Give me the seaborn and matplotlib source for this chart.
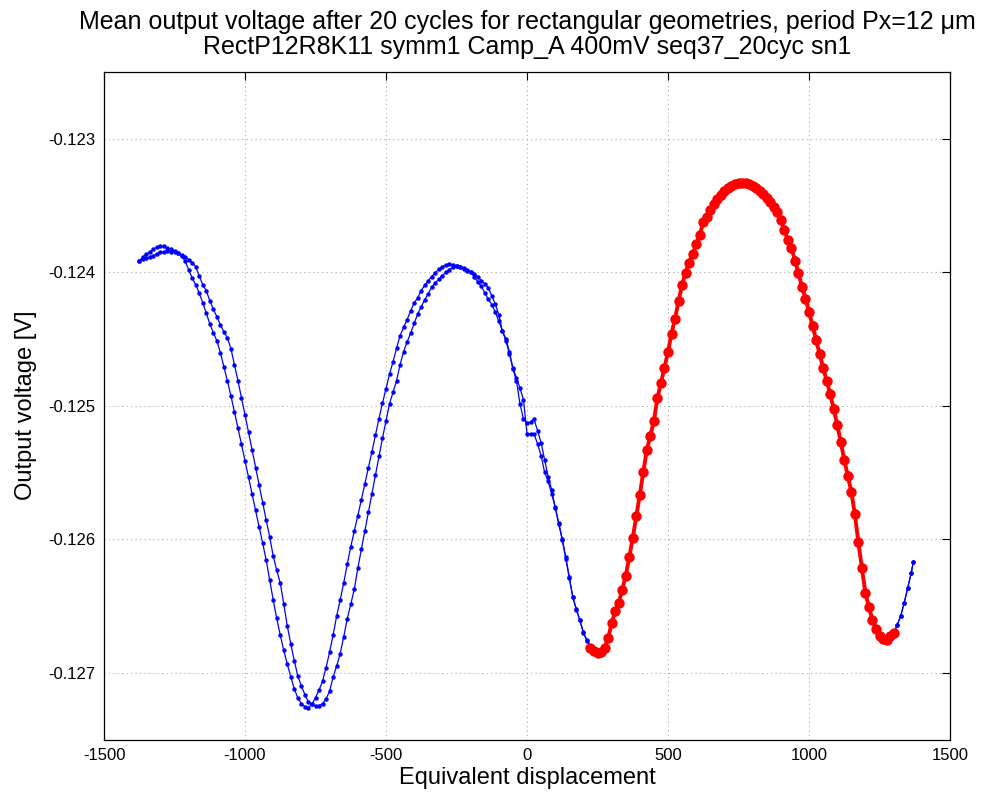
import matplotlib
matplotlib.use("Agg")
import matplotlib.pyplot as plt
from matplotlib.ticker import FormatStrFormatter
import numpy as np
import pandas as pd
import seaborn as sns

# Equivalent displacement of each sample (shared by both sweeps)
displacement = [
    -1375, -1362.5, -1350, -1337.5, -1325, -1312.5, -1300, -1287.5, -1275, -1262.5,
    -1250, -1237.5, -1225, -1212.5, -1200, -1187.5, -1175, -1162.5, -1150, -1137.5,
    -1125, -1112.5, -1100, -1087.5, -1075, -1062.5, -1050, -1037.5, -1025, -1012.5,
    -1000, -987.5, -975, -962.5, -950, -937.5, -925, -912.5, -900, -887.5,
    -875, -862.5, -850, -837.5, -825, -812.5, -800, -787.5, -775, -762.5,
    -750, -737.5, -725, -712.5, -700, -687.5, -675, -662.5, -650, -637.5,
    -625, -612.5, -600, -587.5, -575, -562.5, -550, -537.5, -525, -512.5,
    -500, -487.5, -475, -462.5, -450, -437.5, -425, -412.5, -400, -387.5,
    -375, -362.5, -350, -337.5, -325, -312.5, -300, -287.5, -275, -262.5,
    -250, -237.5, -225, -212.5, -200, -187.5, -175, -162.5, -150, -137.5,
    -125, -112.5, -100, -87.5, -75, -62.5, -50, -37.5, -25, -12.5,
    0, 12.5, 25, 37.5, 50, 62.5, 75, 87.5, 100, 112.5,
    125, 137.5, 150, 162.5, 175, 187.5, 200, 212.5, 225, 237.5,
    250, 262.5, 275, 287.5, 300, 312.5, 325, 337.5, 350, 362.5,
    375, 387.5, 400, 412.5, 425, 437.5, 450, 462.5, 475, 487.5,
    500, 512.5, 525, 537.5, 550, 562.5, 575, 587.5, 600, 612.5,
    625, 637.5, 650, 662.5, 675, 687.5, 700, 712.5, 725, 737.5,
    750, 762.5, 775, 787.5, 800, 812.5, 825, 837.5, 850, 862.5,
    875, 887.5, 900, 912.5, 925, 937.5, 950, 962.5, 975, 987.5,
    1000, 1012.5, 1025, 1037.5, 1050, 1062.5, 1075, 1087.5, 1100, 1112.5,
    1125, 1137.5, 1150, 1162.5, 1175, 1187.5, 1200, 1212.5, 1225, 1237.5,
    1250, 1262.5, 1275, 1287.5, 1300, 1312.5, 1325, 1337.5, 1350, 1362.5,
    1370,
]

# Mean output voltage [V], forward sweep
voltage_fwd = [
    -0.123916, -0.123886, -0.123865, -0.123846, -0.123826, -0.123813, -0.123805, -0.123807, -0.123817, -0.123828,
    -0.123840, -0.123856, -0.123878, -0.123916, -0.123980, -0.124043, -0.124092, -0.124156, -0.124227, -0.124306,
    -0.124385, -0.124452, -0.124512, -0.124602, -0.124707, -0.124812, -0.124925, -0.125045, -0.125165, -0.125288,
    -0.125412, -0.125536, -0.125660, -0.125783, -0.125907, -0.126027, -0.126155, -0.126305, -0.126455, -0.126593,
    -0.126717, -0.126833, -0.126935, -0.127032, -0.127122, -0.127190, -0.127231, -0.127254, -0.127261, -0.127235,
    -0.127186, -0.127130, -0.127062, -0.126961, -0.126845, -0.126717, -0.126575, -0.126455, -0.126327, -0.126188,
    -0.126057, -0.125937, -0.125825, -0.125705, -0.125585, -0.125465, -0.125345, -0.125221, -0.125097, -0.124981,
    -0.124872, -0.124763, -0.124670, -0.124568, -0.124475, -0.124411, -0.124355, -0.124287, -0.124231, -0.124190,
    -0.124137, -0.124096, -0.124062, -0.124032, -0.124002, -0.123978, -0.123957, -0.123944, -0.123940, -0.123942,
    -0.123953, -0.123962, -0.123974, -0.123987, -0.124001, -0.124013, -0.124032, -0.124062, -0.124085, -0.124115,
    -0.124175, -0.124238, -0.124317, -0.124441, -0.124497, -0.124595, -0.124722, -0.124812, -0.124985, -0.125101,
    -0.125129, -0.125123, -0.125101, -0.125187, -0.125277, -0.125405, -0.125532, -0.125630, -0.125765, -0.125885,
    -0.126005, -0.126147, -0.126290, -0.126432, -0.126530, -0.126605, -0.126702, -0.126762, -0.126811, -0.126837,
    -0.126852, -0.126841, -0.126811, -0.126743, -0.126631, -0.126541, -0.126477, -0.126380, -0.126275, -0.126136,
    -0.125990, -0.125828, -0.125667, -0.125495, -0.125330, -0.125225, -0.125112, -0.124943, -0.124827, -0.124715,
    -0.124595, -0.124460, -0.124347, -0.124216, -0.124092, -0.124002, -0.123927, -0.123860, -0.123792, -0.123721,
    -0.123627, -0.123586, -0.123537, -0.123488, -0.123455, -0.123425, -0.123395, -0.123372, -0.123352, -0.123338,
    -0.123331, -0.123329, -0.123333, -0.123342, -0.123353, -0.123371, -0.123391, -0.123416, -0.123442, -0.123473,
    -0.123511, -0.123552, -0.123608, -0.123687, -0.123758, -0.123815, -0.123912, -0.124006, -0.124107, -0.124197,
    -0.124295, -0.124400, -0.124505, -0.124610, -0.124715, -0.124812, -0.124910, -0.125022, -0.125142, -0.125270,
    -0.125405, -0.125525, -0.125645, -0.125810, -0.126020, -0.126215, -0.126402, -0.126507, -0.126605, -0.126676,
    -0.126725, -0.126747, -0.126751, -0.126728, -0.126702, -0.126642, -0.126575, -0.126477, -0.126365, -0.126252,
    -0.126167,
]

# Mean output voltage [V], return sweep
voltage_bwd = [
    -0.123913, -0.123902, -0.123895, -0.123888, -0.123875, -0.123860, -0.123851, -0.123846, -0.123842, -0.123845,
    -0.123849, -0.123857, -0.123874, -0.123885, -0.123905, -0.123927, -0.123957, -0.124028, -0.124092, -0.124137,
    -0.124212, -0.124276, -0.124332, -0.124392, -0.124445, -0.124490, -0.124572, -0.124692, -0.124812, -0.124940,
    -0.125067, -0.125198, -0.125330, -0.125465, -0.125592, -0.125727, -0.125855, -0.125982, -0.126125, -0.126233,
    -0.126327, -0.126485, -0.126650, -0.126785, -0.126912, -0.127025, -0.127100, -0.127164, -0.127220, -0.127235,
    -0.127250, -0.127246, -0.127231, -0.127197, -0.127137, -0.127032, -0.126950, -0.126856, -0.126732, -0.126597,
    -0.126485, -0.126376, -0.126218, -0.126076, -0.125937, -0.125798, -0.125660, -0.125521, -0.125378, -0.125243,
    -0.125112, -0.124985, -0.124898, -0.124812, -0.124692, -0.124595, -0.124520, -0.124456, -0.124381, -0.124313,
    -0.124257, -0.124205, -0.124160, -0.124111, -0.124077, -0.124051, -0.124025, -0.124000, -0.123980, -0.123962,
    -0.123955, -0.123957, -0.123968, -0.123982, -0.123997, -0.124032, -0.124070, -0.124103, -0.124152, -0.124201,
    -0.124242, -0.124298, -0.124366, -0.124437, -0.124512, -0.124610, -0.124718, -0.124790, -0.124867, -0.124955,
    -0.125210, -0.125210, -0.125213, -0.125285, -0.125375, -0.125498, -0.125566, -0.125660, -0.125757, -0.125877,
    -0.125997, -0.126132, -0.126282, -0.126436, -0.126522, -0.126608, -0.126698, -0.126755, -0.126803, -0.126833,
    -0.126848, -0.126845, -0.126817, -0.126750, -0.126642, -0.126552, -0.126486, -0.126392, -0.126288, -0.126150,
    -0.126006, -0.125845, -0.125684, -0.125512, -0.125348, -0.125238, -0.125128, -0.124960, -0.124842, -0.124731,
    -0.124612, -0.124476, -0.124362, -0.124232, -0.124108, -0.124016, -0.123940, -0.123872, -0.123805, -0.123733,
    -0.123640, -0.123596, -0.123547, -0.123497, -0.123463, -0.123432, -0.123401, -0.123377, -0.123356, -0.123341,
    -0.123333, -0.123330, -0.123332, -0.123340, -0.123350, -0.123366, -0.123385, -0.123409, -0.123434, -0.123464,
    -0.123500, -0.123540, -0.123594, -0.123670, -0.123742, -0.123800, -0.123894, -0.123988, -0.124090, -0.124180,
    -0.124278, -0.124383, -0.124488, -0.124593, -0.124698, -0.124796, -0.124893, -0.125004, -0.125124, -0.125252,
    -0.125386, -0.125507, -0.125626, -0.125790, -0.125998, -0.126194, -0.126385, -0.126494, -0.126594, -0.126667,
    -0.126719, -0.126744, -0.126752, -0.126732, -0.126706, -0.126645, -0.126577, -0.126478, -0.126366, -0.126252,
    -0.126167,
]

# Displacement window used for the period evaluation (highlighted)
window_start = 225
window_end = 1300

x_ticks = [-1500, -1000, -500, 0, 500, 1000, 1500]
y_ticks = [-0.127, -0.126, -0.125, -0.124, -0.123]

title_lines = [
    "Mean output voltage after 20 cycles for rectangular geometries, period Px=12 \u03bcm",
    "RectP12R8K11 symm1 Camp_A 400mV seq37_20cyc sn1",
]

sweeps = pd.DataFrame({
    "displacement": displacement,
    "fwd": voltage_fwd,
    "bwd": voltage_bwd,
})
window = sweeps[(sweeps["displacement"] >= window_start) & (sweeps["displacement"] <= window_end)]

sns.set_style("white")
plt.rcParams["font.family"] = ["Liberation Sans", "DejaVu Sans"]
plt.rcParams["axes.unicode_minus"] = False
plt.rcParams["text.color"] = "black"
plt.rcParams["axes.labelcolor"] = "black"

fig = plt.figure(figsize=(9.81, 8.0), dpi=100)
ax = fig.add_axes([104 / 981, 1 - 739.5 / 800, (950 - 104) / 981, (739.5 - 72) / 800])

blue = "#0000ff"
red = "#ff0000"
common = dict(sort=False, estimator=None, ax=ax, legend=False)

sns.lineplot(data=sweeps, x="displacement", y="fwd", color=blue, linewidth=0.9,
             marker="o", markersize=3.2, markeredgewidth=0, **common)
sns.lineplot(data=sweeps, x="displacement", y="bwd", color=blue, linewidth=0.9,
             marker="o", markersize=3.2, markeredgewidth=0, **common)
sns.lineplot(data=window, x="displacement", y="fwd", color=red, linewidth=2.8,
             marker="o", markersize=7.5, markeredgewidth=0, **common)

ax.set_xlim(-1500, 1500)
ax.set_ylim(-0.1275, -0.1225)
ax.set_xticks(x_ticks)
ax.set_yticks(y_ticks)
ax.yaxis.set_major_formatter(FormatStrFormatter("%.3f"))

ax.grid(True, linestyle=(0, (1, 3)), color="#a8a8a8", linewidth=0.8)
for side in ax.spines.values():
    side.set_color("black")
    side.set_linewidth(0.9)
ax.tick_params(direction="in", top=True, right=True, length=6, width=0.8,
               labelsize=12, colors="black", pad=6)

ax.set_xlabel("Equivalent displacement", fontsize=17, labelpad=3)
ax.set_ylabel("Output voltage [V]", fontsize=17, labelpad=8)
ax.set_title("\n".join(title_lines), fontsize=18, pad=13, linespacing=1.05,
             color="black")

fig.savefig("out.png", dpi=100, facecolor="white")
